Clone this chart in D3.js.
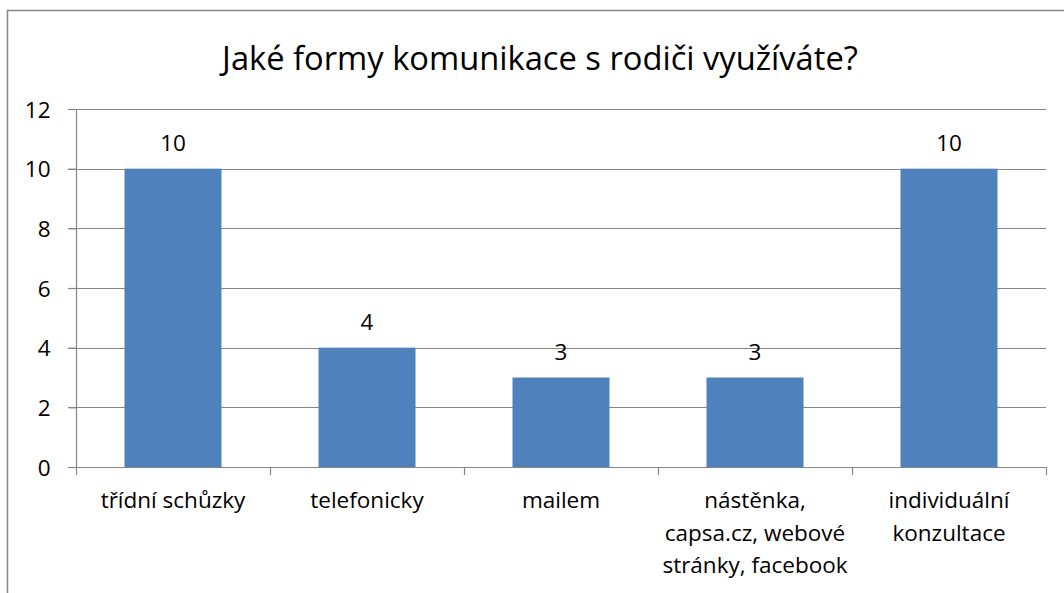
<!DOCTYPE html>
<html>
<head>
<meta charset="utf-8">
<script src="https://cdn.jsdelivr.net/npm/d3@7"></script>
<style>
  body { margin: 0; background: #fff; }
  text { font-family: "Open Sans", "Liberation Sans", sans-serif; fill: #000; }
</style>
</head>
<body>
<div id="chart"></div>
<script>
// data
const categories = [
    ["třídní schůzky"],
    ["telefonicky"],
    ["mailem"],
    ["nástěnka,", "capsa.cz, webové", "stránky, facebook"],
    ["individuální", "konzultace"]
];
const values = [10, 4, 3, 3, 10];
const yTicks = [0, 2, 4, 6, 8, 10, 12];
const title = "Jaké formy komunikace s rodiči využíváte?";

let width = 1064;
let height = 593;
let margin = { top: 109, right: 18, bottom: 126, left: 76 };
let fontSize = "22.5px";

let svg = d3.select("#chart")
    .append("svg")
    .attr("width", width)
    .attr("height", height);

// outer frame (runs off the right and bottom edge)
svg.append("rect")
    .attr("x", 7.5)
    .attr("y", 10.5)
    .attr("width", 1100)
    .attr("height", 700)
    .attr("fill", "#fff")
    .attr("stroke", "#868686")
    .attr("stroke-width", 1.5);

// title, squeezed to the width it has in the picture
let titleText = svg.append("text")
    .attr("x", 540)
    .attr("y", 70)
    .attr("text-anchor", "middle")
    .style("font-size", "28px")
    .text(title);
let tw = titleText.node().getComputedTextLength();
titleText.style("font-size", (28 * 636 / tw) + "px");

let x = d3.scaleBand()
    .domain(d3.range(categories.length))
    .range([margin.left, width - margin.right])
    .paddingInner(0.5)
    .paddingOuter(0.25);

let y = d3.scaleLinear()
    .domain([0, 12])
    .range([height - margin.bottom, margin.top]);

// gridlines
svg.append("g")
    .selectAll("line")
    .data(yTicks.filter(d => d > 0))
    .join("line")
    .attr("x1", margin.left - 8)
    .attr("x2", width - margin.right)
    .attr("y1", d => Math.round(y(d)) + 0.5)
    .attr("y2", d => Math.round(y(d)) + 0.5)
    .attr("stroke", "#868686")
    .attr("stroke-width", 1.2);

// y axis
let yAxis = svg.append("g")
    .attr("transform", `translate(${margin.left + 0.5},0)`)
    .call(d3.axisLeft(y).tickValues(yTicks).tickSize(8).tickPadding(18));
yAxis.selectAll("line, path").attr("stroke", "#868686").attr("stroke-width", 1.2);
yAxis.select(".domain").attr("d", `M0,${y(12)}V${y(0)}`);
yAxis.attr("font-family", null).attr("font-size", null);
yAxis.selectAll("text").style("font-size", fontSize).attr("dy", "0.36em");

// bars
svg.append("g")
    .selectAll("rect")
    .data(values)
    .join("rect")
    .attr("x", (d, i) => x(i))
    .attr("y", d => y(d))
    .attr("width", x.bandwidth())
    .attr("height", d => y(0) - y(d))
    .attr("fill", "#4F81BD");

// value labels
svg.append("g")
    .selectAll("text")
    .data(values)
    .join("text")
    .attr("x", (d, i) => x(i) + x.bandwidth() / 2)
    .attr("y", d => y(d) - 18)
    .attr("text-anchor", "middle")
    .style("font-size", fontSize)
    .text(d => d);

// x axis line and boundary ticks
let step = x.step();
let bounds = d3.range(categories.length + 1).map(i => margin.left + i * step);
let xAxis = svg.append("g");
xAxis.append("line")
    .attr("x1", margin.left - 8)
    .attr("x2", width - margin.right)
    .attr("y1", Math.round(y(0)) + 0.5)
    .attr("y2", Math.round(y(0)) + 0.5)
    .attr("stroke", "#868686")
    .attr("stroke-width", 1.2);
xAxis.selectAll(".tk")
    .data(bounds)
    .join("line")
    .attr("x1", d => Math.round(d) + 0.5)
    .attr("x2", d => Math.round(d) + 0.5)
    .attr("y1", y(0))
    .attr("y2", y(0) + 8)
    .attr("stroke", "#868686")
    .attr("stroke-width", 1.2);

// category labels
let catLabels = svg.append("g")
    .selectAll("text")
    .data(categories)
    .join("text")
    .attr("x", (d, i) => x(i) + x.bandwidth() / 2)
    .attr("y", y(0) + 41)
    .attr("text-anchor", "middle")
    .style("font-size", fontSize);
catLabels.selectAll("tspan")
    .data(d => d)
    .join("tspan")
    .attr("x", function () { return d3.select(this.parentNode).attr("x"); })
    .attr("dy", (d, i) => i === 0 ? 0 : 32.5)
    .text(d => d);
</script>
</body>
</html>
